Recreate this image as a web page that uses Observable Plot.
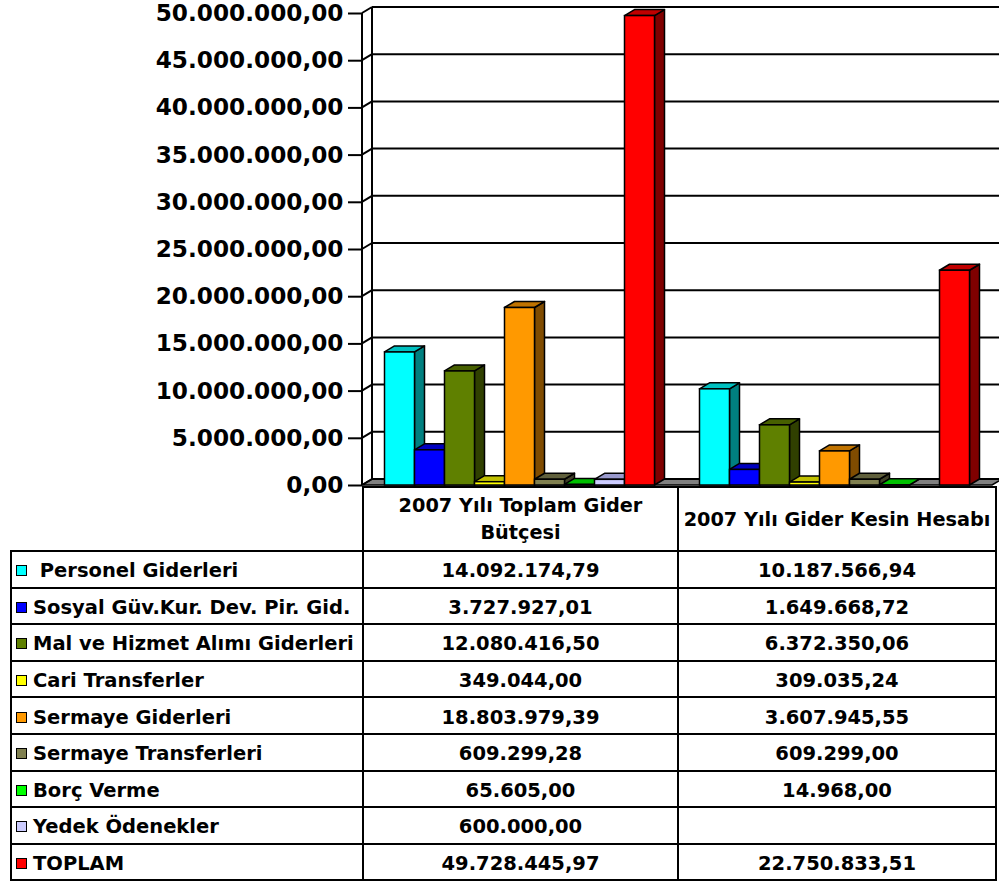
<!DOCTYPE html>
<html>
<head>
<meta charset="utf-8">
<script src="https://cdn.jsdelivr.net/npm/d3@7"></script>
<script src="https://cdn.jsdelivr.net/npm/@observablehq/plot@0.6"></script>
<style>
  html, body { margin: 0; padding: 0; background: #fff; }
  body { width: 999px; height: 882px; position: relative; overflow: hidden; font-family: "DejaVu Sans", Verdana, sans-serif; font-weight: bold; }
  #chart { position: absolute; left: 0; top: 0; }
  #tbl { position: absolute; left: 10px; top: 486px; border-collapse: collapse; table-layout: fixed; width: 985px; }
  #tbl td { border: 2px solid #000; padding: 0; font-size: 19.5px; color: #000; text-align: center; vertical-align: middle; white-space: nowrap; overflow: hidden; }
  #tbl tr.hdr td { height: 62px; font-size: 19.3px; line-height: 27px; }
  #tbl tr.hdr td.blank { border-top: none; border-left: none; }
  #tbl tr.row td { height: 31.6px; padding-top: 3px; }
  #tbl td.lab { text-align: left; padding-left: 4px; }
  .sw { display: inline-block; width: 9px; height: 9px; border: 1.5px solid #000; margin-right: 6px; vertical-align: 1px; }
</style>
</head>
<body>
<div id="chart"></div>
<table id="tbl"></table>
<script>
// ---- data ----
const groups = ["2007 Yılı Toplam Gider Bütçesi", "2007 Yılı Gider Kesin Hesabı"];
const groupHeaders = [["2007 Yılı Toplam Gider", "Bütçesi"], ["2007 Yılı Gider Kesin Hesabı"]];
const series = [
  "Personel Giderleri",
  "Sosyal Güv.Kur. Dev. Pir. Gid.",
  "Mal ve Hizmet Alımı Giderleri",
  "Cari Transferler",
  "Sermaye Giderleri",
  "Sermaye Transferleri",
  "Borç Verme",
  "Yedek Ödenekler",
  "TOPLAM"
];
const butce = [14092174.79, 3727927.01, 12080416.50, 349044.00, 18803979.39, 609299.28, 65605.00, 600000.00, 49728445.97];
const kesin = [10187566.94, 1649668.72, 6372350.06, 309035.24, 3607945.55, 609299.00, 14968.00, null, 22750833.51];
const frontColors = ["#00ffff", "#0000ff", "#5f8000", "#ffff00", "#ff9900", "#808050", "#00ff00", "#ccccff", "#ff0000"];
const sideColors  = ["#008080", "#000080", "#304000", "#808000", "#804c00", "#404028", "#008000", "#666680", "#800000"];
const topColors   = ["#00c0c0", "#0000c0", "#476000", "#c0c000", "#c07300", "#60603c", "#00c000", "#9999cc", "#c00000"];
const yTicks = [0, 5e6, 10e6, 15e6, 20e6, 25e6, 30e6, 35e6, 40e6, 45e6, 50e6];

// ---- helpers ----
const tr = d3.formatLocale({decimal: ",", thousands: ".", grouping: [3], currency: ["", ""]});
const fmt = tr.format(",.2f");
const valuesByGroup = [butce, kesin];
const slotsPerGroup = series.length + 1.5; // 0.75 outer padding each side
const rows = [];
valuesByGroup.forEach((vals, gi) => {
  vals.forEach((v, si) => {
    if (v == null) return;
    const x1 = gi * slotsPerGroup + 0.75 + si;
    rows.push({group: groups[gi], series: series[si], si, value: v, x1, x2: x1 + 1});
  });
});

const DX = 10, DY = -6; // depth offset of the 3D box (px)

function walls(index, scales, values, dimensions) {
  const X = scales.x, Y = scales.y;
  const g = d3.create("svg:g");
  const xl = X(0), xr = X(2 * slotsPerGroup);
  const y0 = Y(0), yT = Y(50e6);
  // floor
  g.append("polygon")
    .attr("points", [[xl, y0], [xr, y0], [xr + DX, y0 + DY], [xl + DX, y0 + DY]].join(" "))
    .attr("fill", "#808080").attr("stroke", "#000").attr("stroke-width", 1.5);
  // back wall grid lines
  for (const t of yTicks) {
    g.append("line").attr("x1", xl + DX).attr("x2", xr + DX + 20)
      .attr("y1", Y(t) + DY).attr("y2", Y(t) + DY)
      .attr("stroke", "#000").attr("stroke-width", 2);
    // left wall diagonals
    g.append("line").attr("x1", xl).attr("x2", xl + DX)
      .attr("y1", Y(t)).attr("y2", Y(t) + DY)
      .attr("stroke", "#000").attr("stroke-width", 2);
  }
  // left wall edges
  g.append("line").attr("x1", xl + DX).attr("x2", xl + DX).attr("y1", yT + DY).attr("y2", y0 + DY)
    .attr("stroke", "#000").attr("stroke-width", 2);
  g.append("line").attr("x1", xl).attr("x2", xl).attr("y1", yT).attr("y2", y0)
    .attr("stroke", "#000").attr("stroke-width", 2);
  return g.node();
}

function boxes(index, scales) {
  const X = scales.x, Y = scales.y;
  const g = d3.create("svg:g");
  for (const d of rows) {
    const x1 = X(d.x1), x2 = X(d.x2), y0 = Y(0), yt = Y(d.value);
    g.append("polygon")
      .attr("points", [[x2, y0], [x2, yt], [x2 + DX, yt + DY], [x2 + DX, y0 + DY]].join(" "))
      .attr("fill", sideColors[d.si]).attr("stroke", "#000").attr("stroke-width", 1.5).attr("stroke-linejoin", "round");
    g.append("polygon")
      .attr("points", [[x1, yt], [x2, yt], [x2 + DX, yt + DY], [x1 + DX, yt + DY]].join(" "))
      .attr("fill", topColors[d.si]).attr("stroke", "#000").attr("stroke-width", 1.5).attr("stroke-linejoin", "round");
  }
  return g.node();
}

const chart = Plot.plot({
  width: 999,
  height: 490,
  marginLeft: 362,
  marginRight: 7,
  marginTop: 13,
  marginBottom: 5,
  style: {fontFamily: "DejaVu Sans, Verdana, sans-serif", fontWeight: "bold", background: "transparent", overflow: "visible"},
  x: {type: "linear", domain: [0, 2 * slotsPerGroup], axis: null},
  y: {domain: [0, 50e6], axis: null},
  marks: [
    walls,
    boxes,
    Plot.rect(rows, {
      x1: "x1", x2: "x2", y1: 0, y2: "value",
      fill: d => frontColors[d.si], stroke: "#000", strokeWidth: 1.5
    }),
    Plot.axisY({
      ticks: yTicks, tickFormat: fmt, tickSize: 14, tickPadding: 5,
      fontSize: 23.2, strokeWidth: 2, label: null, anchor: "left"
    })
  ]
});
document.getElementById("chart").appendChild(chart);

// ---- data table (legend + values) ----
const tbl = d3.select("#tbl");
const cg = tbl.append("colgroup");
cg.append("col").style("width", "352px");
cg.append("col").style("width", "315px");
cg.append("col").style("width", "318px");
const hdr = tbl.append("tr").attr("class", "hdr");
hdr.append("td").attr("class", "blank");
groupHeaders.forEach(lines => {
  const td = hdr.append("td");
  lines.forEach((l, i) => { if (i) td.append("br"); td.append("span").text(l); });
});
series.forEach((s, si) => {
  const r = tbl.append("tr").attr("class", "row");
  const lab = r.append("td").attr("class", "lab");
  lab.append("span").attr("class", "sw").style("background", frontColors[si]);
  lab.append("span").text(si === 0 ? "\u00a0" + s : s);
  valuesByGroup.forEach(vals => {
    r.append("td").text(vals[si] == null ? "" : fmt(vals[si]));
  });
});
</script>
</body>
</html>
